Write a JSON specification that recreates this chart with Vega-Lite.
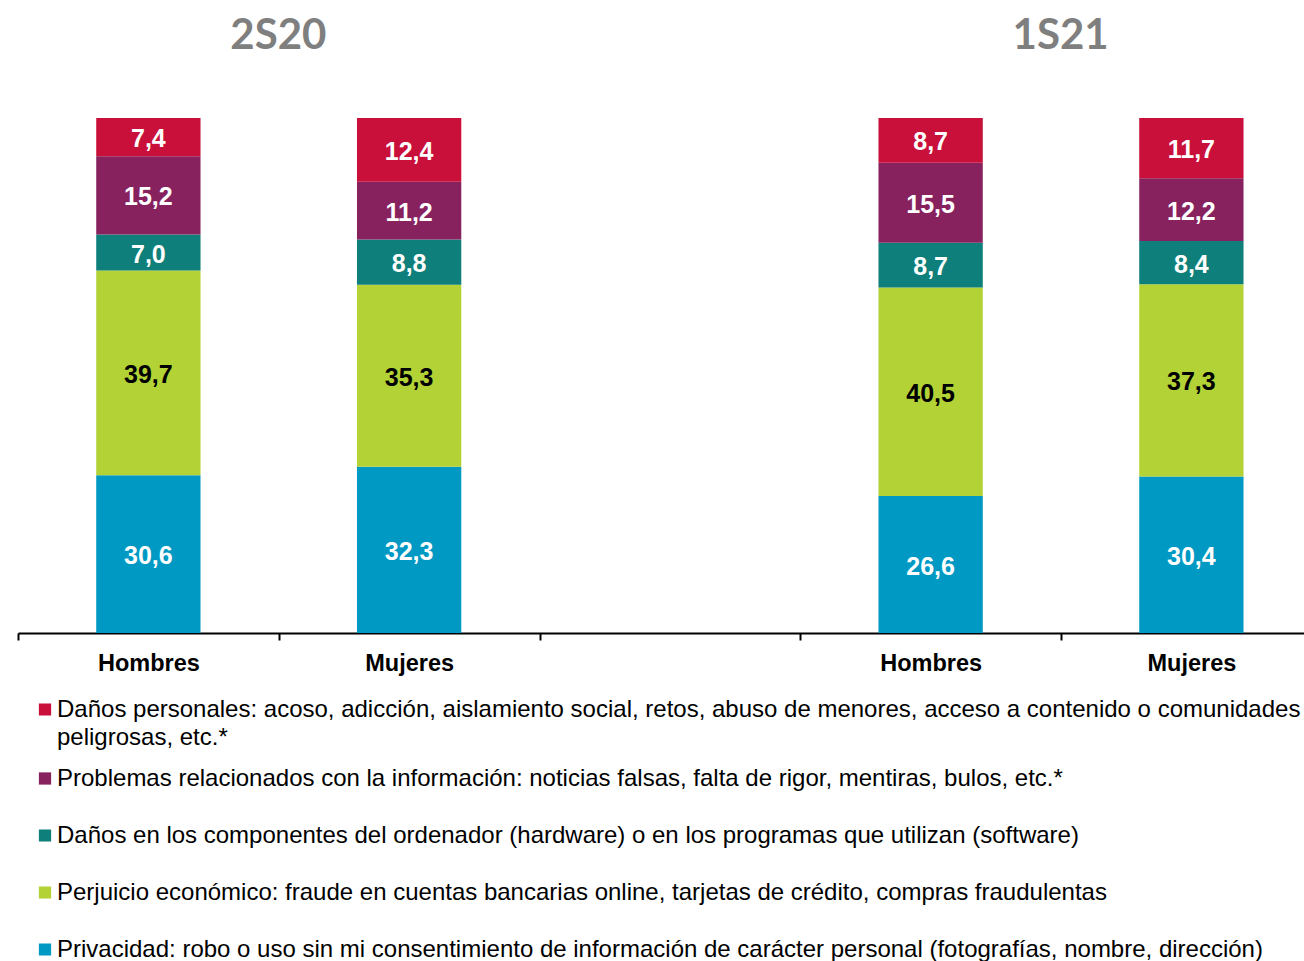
{
  "$schema": "https://vega.github.io/schema/vega-lite/v6.json",
  "width": 1286,
  "height": 515,
  "autosize": {"type": "none"},
  "padding": {"left": 18, "top": 118, "right": 0, "bottom": 328},
  "background": "white",
  "config": {
    "view": {"stroke": null},
    "font": "Liberation Sans",
    "style": {"guide-label": {"lineHeight": 28}}
  },
  "datasets": {
    "valores": [
      {"grupo": "2S20 Hombres", "orden": 1, "cat": "Privacidad: robo o uso sin mi consentimiento de información de carácter personal (fotografías, nombre, dirección)", "v": 30.6},
      {"grupo": "2S20 Hombres", "orden": 2, "cat": "Perjuicio económico: fraude en cuentas bancarias online, tarjetas de crédito, compras fraudulentas", "v": 39.7},
      {"grupo": "2S20 Hombres", "orden": 3, "cat": "Daños en los componentes del ordenador (hardware) o en los programas que utilizan (software)", "v": 7.0},
      {"grupo": "2S20 Hombres", "orden": 4, "cat": "Problemas relacionados con la información: noticias falsas, falta de rigor, mentiras, bulos, etc.*", "v": 15.2},
      {"grupo": "2S20 Hombres", "orden": 5, "cat": "Daños personales: acoso, adicción, aislamiento social, retos, abuso de menores, acceso a contenido o comunidades peligrosas, etc.*", "v": 7.4},
      {"grupo": "2S20 Mujeres", "orden": 1, "cat": "Privacidad: robo o uso sin mi consentimiento de información de carácter personal (fotografías, nombre, dirección)", "v": 32.3},
      {"grupo": "2S20 Mujeres", "orden": 2, "cat": "Perjuicio económico: fraude en cuentas bancarias online, tarjetas de crédito, compras fraudulentas", "v": 35.3},
      {"grupo": "2S20 Mujeres", "orden": 3, "cat": "Daños en los componentes del ordenador (hardware) o en los programas que utilizan (software)", "v": 8.8},
      {"grupo": "2S20 Mujeres", "orden": 4, "cat": "Problemas relacionados con la información: noticias falsas, falta de rigor, mentiras, bulos, etc.*", "v": 11.2},
      {"grupo": "2S20 Mujeres", "orden": 5, "cat": "Daños personales: acoso, adicción, aislamiento social, retos, abuso de menores, acceso a contenido o comunidades peligrosas, etc.*", "v": 12.4},
      {"grupo": "1S21 Hombres", "orden": 1, "cat": "Privacidad: robo o uso sin mi consentimiento de información de carácter personal (fotografías, nombre, dirección)", "v": 26.6},
      {"grupo": "1S21 Hombres", "orden": 2, "cat": "Perjuicio económico: fraude en cuentas bancarias online, tarjetas de crédito, compras fraudulentas", "v": 40.5},
      {"grupo": "1S21 Hombres", "orden": 3, "cat": "Daños en los componentes del ordenador (hardware) o en los programas que utilizan (software)", "v": 8.7},
      {"grupo": "1S21 Hombres", "orden": 4, "cat": "Problemas relacionados con la información: noticias falsas, falta de rigor, mentiras, bulos, etc.*", "v": 15.5},
      {"grupo": "1S21 Hombres", "orden": 5, "cat": "Daños personales: acoso, adicción, aislamiento social, retos, abuso de menores, acceso a contenido o comunidades peligrosas, etc.*", "v": 8.7},
      {"grupo": "1S21 Mujeres", "orden": 1, "cat": "Privacidad: robo o uso sin mi consentimiento de información de carácter personal (fotografías, nombre, dirección)", "v": 30.4},
      {"grupo": "1S21 Mujeres", "orden": 2, "cat": "Perjuicio económico: fraude en cuentas bancarias online, tarjetas de crédito, compras fraudulentas", "v": 37.3},
      {"grupo": "1S21 Mujeres", "orden": 3, "cat": "Daños en los componentes del ordenador (hardware) o en los programas que utilizan (software)", "v": 8.4},
      {"grupo": "1S21 Mujeres", "orden": 4, "cat": "Problemas relacionados con la información: noticias falsas, falta de rigor, mentiras, bulos, etc.*", "v": 12.2},
      {"grupo": "1S21 Mujeres", "orden": 5, "cat": "Daños personales: acoso, adicción, aislamiento social, retos, abuso de menores, acceso a contenido o comunidades peligrosas, etc.*", "v": 11.7}
    ],
    "periodos": [
      {"grupo": "2S20 Hombres", "periodo": "2S20"},
      {"grupo": "1S21 Hombres", "periodo": "1S21"}
    ]
  },
  "encoding": {
    "x": {
      "field": "grupo",
      "type": "nominal",
      "sort": null,
      "scale": {
        "domain": ["2S20 Hombres", "2S20 Mujeres", "hueco", "1S21 Hombres", "1S21 Mujeres"],
        "range": [0, 1303.75],
        "paddingInner": 0,
        "paddingOuter": 0
      },
      "axis": {
        "title": null,
        "tickBand": "extent",
        "domainColor": "#000000",
        "domainWidth": 2,
        "tickColor": "#000000",
        "tickWidth": 2,
        "tickSize": 7,
        "labelAngle": 0,
        "labelFont": "Liberation Sans",
        "labelFontSize": 23.5,
        "labelFontWeight": "bold",
        "labelColor": "#000000",
        "labelPadding": 11,
        "labelExpr": "datum.value == 'hueco' ? '' : split(datum.value, ' ')[1]"
      }
    }
  },
  "layer": [
    {
      "data": {"name": "valores"},
      "transform": [
        {"stack": "v", "groupby": ["grupo"], "sort": [{"field": "orden", "order": "ascending"}], "offset": "normalize", "as": ["y0", "y1"]}
      ],
      "mark": {"type": "bar", "width": {"band": 0.4}},
      "encoding": {
        "y": {"field": "y0", "type": "quantitative", "scale": {"domain": [0, 1]}, "axis": null},
        "y2": {"field": "y1"},
        "color": {
          "field": "cat",
          "type": "nominal",
          "scale": {
            "domain": [
              "Daños personales: acoso, adicción, aislamiento social, retos, abuso de menores, acceso a contenido o comunidades peligrosas, etc.*",
              "Problemas relacionados con la información: noticias falsas, falta de rigor, mentiras, bulos, etc.*",
              "Daños en los componentes del ordenador (hardware) o en los programas que utilizan (software)",
              "Perjuicio económico: fraude en cuentas bancarias online, tarjetas de crédito, compras fraudulentas",
              "Privacidad: robo o uso sin mi consentimiento de información de carácter personal (fotografías, nombre, dirección)"
            ],
            "range": ["#C8103A", "#87225F", "#0E7F7A", "#B2D235", "#0099C4"]
          },
          "legend": {
            "orient": "none",
            "legendX": 15,
            "legendY": 563,
            "direction": "vertical",
            "title": null,
            "padding": 0,
            "symbolType": "square",
            "symbolSize": 150,
            "symbolStrokeWidth": 0,
            "symbolOpacity": 1,
            "labelFont": "Liberation Sans",
            "labelFontSize": 24,
            "labelColor": "#000000",
            "labelLimit": 1400,
            "labelOffset": 0,
            "clipHeight": 57,
            "rowPadding": 0,
            "labelExpr": "indexof(datum.label, 'peligrosas') > 0 ? ['Daños personales: acoso, adicción, aislamiento social, retos, abuso de menores, acceso a contenido o comunidades', 'peligrosas, etc.*'] : datum.label"
          }
        }
      }
    },
    {
      "data": {"name": "valores"},
      "transform": [
        {"stack": "v", "groupby": ["grupo"], "sort": [{"field": "orden", "order": "ascending"}], "offset": "normalize", "as": ["y0", "y1"]},
        {"calculate": "(datum.y0 + datum.y1) / 2", "as": "ymid"},
        {"calculate": "replace(format(datum.v, '.1f'), '.', ',')", "as": "etiqueta"}
      ],
      "mark": {"type": "text", "font": "Liberation Sans", "fontSize": 25, "fontWeight": "bold", "baseline": "middle", "align": "center", "dy": 2},
      "encoding": {
        "y": {"field": "ymid", "type": "quantitative", "axis": null},
        "text": {"field": "etiqueta"},
        "color": {"condition": {"test": "datum.orden == 2", "value": "#000000"}, "value": "#FFFFFF"}
      }
    },
    {
      "data": {"name": "periodos"},
      "mark": {"type": "text", "font": "Lato", "fontSize": 42, "fontWeight": "bold", "color": "#7F7F7F", "baseline": "middle", "align": "center", "dx": 130},
      "encoding": {
        "y": {"datum": 1.16, "type": "quantitative", "axis": null},
        "text": {"field": "periodo"}
      }
    }
  ]
}
